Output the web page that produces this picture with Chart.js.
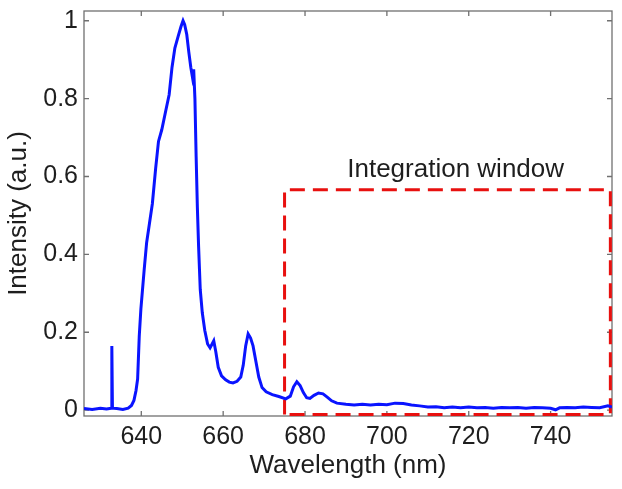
<!DOCTYPE html>
<html>
<head>
<meta charset="utf-8">
<script src="https://cdn.jsdelivr.net/npm/chart.js@4.4.1/dist/chart.umd.min.js"></script>
<style>
  html, body { margin: 0; padding: 0; background: #fff; }
  #box { width: 622px; height: 489px; }
</style>
</head>
<body>
<div id="box"><canvas id="myChart"></canvas></div>
<script>
// spectrum
const wavelength = [
  626, 628, 630, 631.5, 632.65, 632.8, 632.95, 634, 635.5, 636.8, 637.6, 638.2, 638.7,
  639.1, 639.5, 639.9, 640.3, 640.7, 641.3, 642, 642.7, 643.5, 644.2, 645, 646, 646.8, 647.5,
  648.2, 649, 649.7, 650.2, 650.6, 651.1, 651.6, 652.1, 652.5, 652.8, 653.1, 653.4, 653.7, 654,
  654.4, 654.9, 655.5, 656.2, 656.8, 657.3, 657.7, 658.2, 658.8, 659.6, 660.6, 661.5, 662.4,
  663.4, 664.3, 664.9, 665.5, 666.1, 666.7, 667.3, 668, 668.7, 669.5, 670.5, 672, 673.6, 675.3,
  676.4, 677.2, 678, 678.8, 679.6, 680.4, 681.2, 682.2, 683.3, 684.4, 685.5, 686.5, 687.8, 690,
  692, 694, 696, 698, 700, 702, 704, 706, 708, 710, 712, 714, 716, 718, 720, 722, 724, 726, 728,
  730, 732, 734, 736, 738, 740, 741.2, 742.2, 744, 746, 748, 750, 752, 754, 755
];
const intensity = [
  0.004, 0.002, 0.005, 0.003, 0.005, 0.165, 0.005, 0.004, 0.002, 0.005, 0.012, 0.025, 0.05,
  0.08, 0.19, 0.26, 0.31, 0.36, 0.43, 0.48, 0.53, 0.62, 0.69, 0.72, 0.77, 0.81, 0.88,
  0.93, 0.96, 0.985, 1.0, 0.99, 0.965, 0.92, 0.88, 0.855, 0.875, 0.8, 0.65, 0.52, 0.42,
  0.31, 0.25, 0.205, 0.17, 0.16, 0.17, 0.178, 0.15, 0.11, 0.088, 0.078, 0.072, 0.07,
  0.074, 0.085, 0.115, 0.165, 0.196, 0.185, 0.165, 0.125, 0.085, 0.058, 0.047, 0.04, 0.035, 0.029,
  0.036, 0.06, 0.073, 0.063, 0.045, 0.032, 0.03, 0.038, 0.044, 0.042, 0.033, 0.024, 0.018, 0.015,
  0.013, 0.015, 0.013, 0.015, 0.014, 0.018, 0.017, 0.013, 0.011, 0.008, 0.009, 0.006, 0.008, 0.006, 0.008, 0.006, 0.007, 0.005, 0.007,
  0.006, 0.007, 0.005, 0.007, 0.006, 0.005, 0.001, 0.006, 0.007, 0.006, 0.008, 0.007, 0.006, 0.011, 0.008
];

// integration window (dashed red box)
const windowX = [675, 754.6];
const windowY = [-0.011, 0.566];
const windowLabel = 'Integration window';

const xTicks = [640, 660, 680, 700, 720, 740];
const yTicks = [0, 0.2, 0.4, 0.6, 0.8, 1];

const espectro = wavelength.map(function (w, i) { return { x: w, y: intensity[i] }; });
const janela = [
  { x: windowX[0], y: windowY[0] },
  { x: windowX[0], y: windowY[1] },
  { x: windowX[1], y: windowY[1] },
  { x: windowX[1], y: windowY[0] },
  { x: windowX[0], y: windowY[0] }
];

// matlab-like box with inward ticks, plus the window label
const eixoMatlab = {
  id: 'eixoMatlab',
  beforeDatasetsDraw(chart) {
    const ctx = chart.ctx;
    const a = chart.chartArea;
    const sx = chart.scales.x, sy = chart.scales.y;
    ctx.save();
    ctx.strokeStyle = '#707070';
    ctx.lineWidth = 1.3;
    ctx.strokeRect(a.left, a.top, a.right - a.left, a.bottom - a.top);
    ctx.beginPath();
    xTicks.forEach(function (t) {
      const px = sx.getPixelForValue(t);
      ctx.moveTo(px, a.bottom); ctx.lineTo(px, a.bottom - 5);
      ctx.moveTo(px, a.top); ctx.lineTo(px, a.top + 5);
    });
    yTicks.forEach(function (t) {
      const py = sy.getPixelForValue(t);
      ctx.moveTo(a.left, py); ctx.lineTo(a.left + 5, py);
      ctx.moveTo(a.right, py); ctx.lineTo(a.right - 5, py);
    });
    ctx.stroke();
    ctx.restore();
  },
  afterDraw(chart) {
    const ctx = chart.ctx;
    const sx = chart.scales.x, sy = chart.scales.y;
    ctx.save();
    ctx.fillStyle = '#1e1e1e';
    ctx.font = '26px "Liberation Sans", Arial, sans-serif';
    ctx.textAlign = 'center';
    ctx.textBaseline = 'alphabetic';
    ctx.fillText(windowLabel, sx.getPixelForValue(716.8), sy.getPixelForValue(0.598));
    ctx.restore();
  }
};

const fonte = { family: '"Liberation Sans", Arial, sans-serif', size: 25 };

const grafico = document.getElementById('myChart');
new Chart(grafico, {
  type: 'scatter',
  data: {
    datasets: [
      {
        label: 'Espectro',
        data: espectro,
        showLine: true,
        borderColor: '#0a14ff',
        borderWidth: 3,
        pointRadius: 0,
        tension: 0
      },
      {
        label: 'Janela',
        data: janela,
        showLine: true,
        borderColor: '#e8100f',
        borderWidth: 3,
        borderDash: [15, 8],
        pointRadius: 0,
        clip: false
      }
    ]
  },
  options: {
    responsive: true,
    maintainAspectRatio: false,
    animation: false,
    layout: { padding: { top: 11, right: 10, left: 0, bottom: 0 } },
    plugins: {
      legend: { display: false },
      tooltip: { enabled: false }
    },
    scales: {
      x: {
        type: 'linear',
        min: 626,
        max: 755,
        afterBuildTicks: function (scale) {
          scale.ticks = xTicks.map(function (v) { return { value: v }; });
        },
        afterFit: function (scale) {
          scale.height = 73;
          scale.paddingLeft = 0;
          scale.paddingRight = 0;
        },
        grid: { display: false, drawTicks: false },
        border: { display: false },
        ticks: { font: fonte, color: '#1e1e1e', padding: 6, maxRotation: 0 },
        title: {
          display: true,
          text: 'Wavelength (nm)',
          font: { family: fonte.family, size: 26 },
          color: '#1e1e1e',
          padding: { top: 0, bottom: 8 }
        }
      },
      y: {
        type: 'linear',
        min: -0.015,
        max: 1.025,
        afterBuildTicks: function (scale) {
          scale.ticks = yTicks.map(function (v) { return { value: v }; });
        },
        afterFit: function (scale) {
          scale.width = 84;
          scale.paddingTop = 0;
          scale.paddingBottom = 0;
        },
        grid: { display: false, drawTicks: false },
        border: { display: false },
        ticks: {
          font: fonte,
          color: '#1e1e1e',
          padding: 6,
          callback: function (v) { return String(v); }
        },
        title: {
          display: true,
          text: 'Intensity (a.u.)',
          font: { family: fonte.family, size: 26 },
          color: '#1e1e1e',
          padding: { top: 3, bottom: 0 }
        }
      }
    }
  },
  plugins: [eixoMatlab]
});
</script>
</body>
</html>
